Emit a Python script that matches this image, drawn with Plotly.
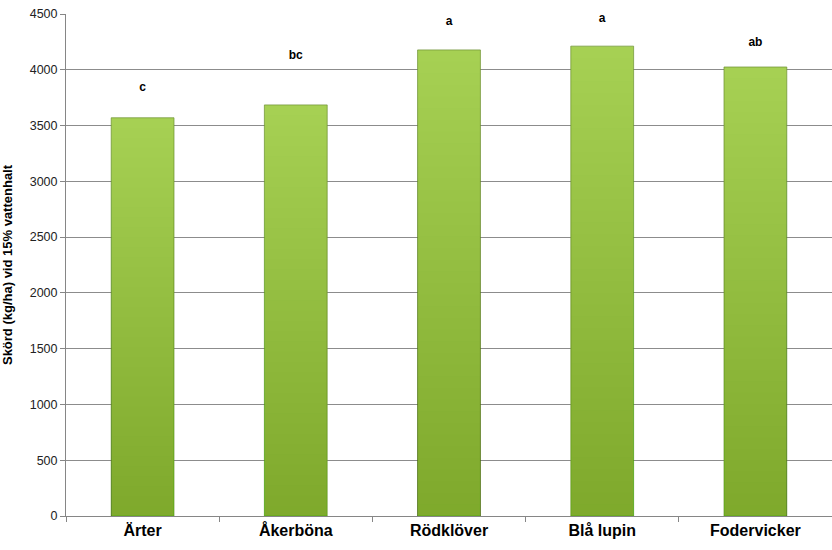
import plotly.graph_objects as go

categories = ["Ärter", "Åkerböna", "Rödklöver", "Blå lupin", "Fodervicker"]
yields = [3570, 3685, 4178, 4212, 4025]
letters = ["c", "bc", "a", "a", "ab"]
letter_y = [3840, 4125, 4430, 4455, 4240]

y_ticks = [0, 500, 1000, 1500, 2000, 2500, 3000, 3500, 4000, 4500]

FONT = "Arial, 'Liberation Sans', sans-serif"
BAR_W = 0.41

fig = go.Figure()

# base bar (light green)
fig.add_trace(go.Bar(
    x=categories, y=yields, width=BAR_W,
    marker=dict(color="#a7d154", line=dict(color="rgba(110,145,50,0.7)", width=1)),
    hoverinfo="skip", showlegend=False,
))

# layered translucent overlays to build a vertical gradient (darker at bottom)
N = 40
for i in range(1, N + 1):
    frac = i / N
    fig.add_trace(go.Bar(
        x=categories, y=[v * frac for v in yields], width=BAR_W,
        marker=dict(color="rgba(82,128,34,0.0115)", line=dict(width=0)),
        hoverinfo="skip", showlegend=False,
    ))

fig.add_trace(go.Scatter(
    x=categories, y=letter_y, mode="text", text=[f"<b>{t}</b>" for t in letters],
    textfont=dict(family=FONT, size=12, color="#000000"),
    textposition="middle center",
    hoverinfo="skip", showlegend=False,
))

fig.update_layout(
    width=832, height=550,
    margin=dict(l=66, r=0, t=14, b=34),
    paper_bgcolor="white", plot_bgcolor="white",
    barmode="overlay", bargap=0.59,
    font=dict(family=FONT, color="#222222"),
    showlegend=False,
)

fig.update_xaxes(
    type="category",
    tickfont=dict(family=FONT, size=16, color="#000000", weight="bold"),
    showline=True, linecolor="#868686", linewidth=1,
    ticks="outside", tickson="boundaries", ticklen=5, tickcolor="#868686",
    showgrid=False, zeroline=False,
)

fig.update_yaxes(
    range=[0, 4500], tickvals=y_ticks,
    tickfont=dict(family=FONT, size=12.5, color="#222222"),
    showline=True, linecolor="#868686", linewidth=1,
    ticks="outside", ticklen=5, tickcolor="#868686",
    showgrid=True, gridcolor="#8c8c8c", gridwidth=1,
    zeroline=False,
    title=dict(text="<b>Skörd (kg/ha) vid 15% vattenhalt</b>",
               font=dict(family=FONT, size=13, color="#000000"), standoff=14),
)

fig.write_html(
    "out.html",
    config={"displayModeBar": False},
    post_script="document.body.style.margin='0';document.body.style.overflow='hidden';",
)
